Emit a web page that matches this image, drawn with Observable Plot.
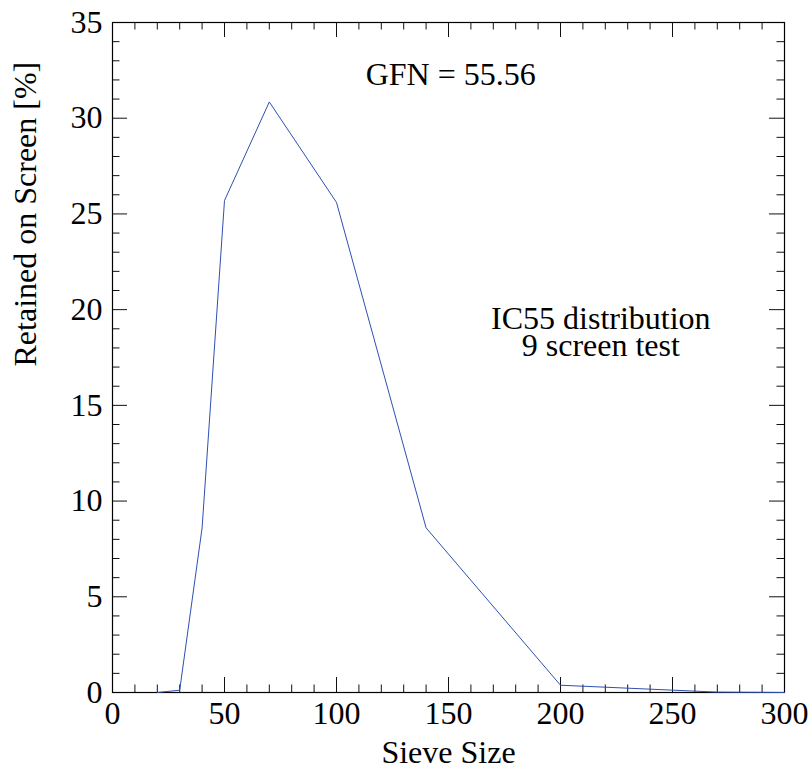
<!DOCTYPE html>
<html><head><meta charset="utf-8">
<script src="https://cdn.jsdelivr.net/npm/d3@7"></script>
<script src="https://cdn.jsdelivr.net/npm/@observablehq/plot@0.6"></script>
<style>
body{margin:0;background:#fff}
</style>
</head><body><div id="chart"></div>
<script>
// Data
const sieveSize = [20, 30, 40, 50, 70, 100, 140, 200, 270, 300];
const retained  = [0, 0.12, 8.6, 25.7, 30.85, 25.6, 8.6, 0.38, 0.02, 0];

// Tick values
const xMajorTicks = [0, 50, 100, 150, 200, 250, 300];
const xMinorTicks = [10, 20, 30, 40, 60, 70, 80, 90, 110, 120, 130, 140, 160, 170, 180, 190, 210, 220, 230, 240, 260, 270, 280, 290];
const yMajorTicks = [0, 5, 10, 15, 20, 25, 30, 35];
const yMinorTicks = [1, 2, 3, 4, 6, 7, 8, 9, 11, 12, 13, 14, 16, 17, 18, 19, 21, 22, 23, 24, 26, 27, 28, 29, 31, 32, 33, 34];

// Text
const xTitle = "Sieve Size";
const yTitle = "Retained on Screen [%]";
const notes = [
  {x: 151, y: 32.17, text: "GFN = 55.56"},
  {x: 218, y: 18.73, text: "IC55 distribution\n9 screen test"}
];

const data = sieveSize.map((s, i) => ({size: s, pct: retained[i]}));

const W = 808, H = 775;
const mL = 112, mR = 24, mT = 22, mB = 83;
const innerW = W - mL - mR, innerH = H - mT - mB;
const major = 15, minor = 7.5;
const tickStyle = {stroke: "#111", strokeWidth: 1};
const FONT = "Liberation Serif";
const txt = {fontFamily: FONT, fontSize: 32, fill: "#000"};

const chart = Plot.plot({
  width: W, height: H,
  marginLeft: mL, marginRight: mR, marginTop: mT, marginBottom: mB,
  style: {fontFamily: FONT, fontSize: "32px", color: "#000", background: "#fff", overflow: "visible"},
  x: {domain: [0, 300], axis: null},
  y: {domain: [0, 35], axis: null},
  marks: [
    // inward ticks: bottom / top
    Plot.tickX(xMajorTicks, {x: d => d, insetTop: innerH - major, ...tickStyle}),
    Plot.tickX(xMajorTicks, {x: d => d, insetBottom: innerH - major, ...tickStyle}),
    Plot.tickX(xMinorTicks, {x: d => d, insetTop: innerH - minor, ...tickStyle}),
    Plot.tickX(xMinorTicks, {x: d => d, insetBottom: innerH - minor, ...tickStyle}),
    // inward ticks: left / right
    Plot.tickY(yMajorTicks, {y: d => d, insetRight: innerW - major, ...tickStyle}),
    Plot.tickY(yMajorTicks, {y: d => d, insetLeft: innerW - major, ...tickStyle}),
    Plot.tickY(yMinorTicks, {y: d => d, insetRight: innerW - minor, ...tickStyle}),
    Plot.tickY(yMinorTicks, {y: d => d, insetLeft: innerW - minor, ...tickStyle}),
    Plot.frame({stroke: "#000", strokeWidth: 1.2}),
    Plot.axisX(xMajorTicks, {tickSize: 0, tickPadding: 9, label: null, tickFormat: d => String(d), ...txt}),
    Plot.axisY(yMajorTicks, {tickSize: 0, tickPadding: 10, label: null, tickFormat: d => String(d), ...txt}),
    Plot.line(data, {x: "size", y: "pct", stroke: "#2f4fb3", strokeWidth: 1}),
    Plot.text(notes, {x: "x", y: "y", text: "text", lineAnchor: "middle", lineHeight: 0.85, ...txt}),
    Plot.text([xTitle], {text: d => d, frameAnchor: "bottom", dy: 70, ...txt}),
    Plot.text([yTitle], {text: d => d, frameAnchor: "left", rotate: -90, dx: -87, dy: 9, ...txt})
  ]
});
document.getElementById("chart").append(chart);
</script>
</body></html>
